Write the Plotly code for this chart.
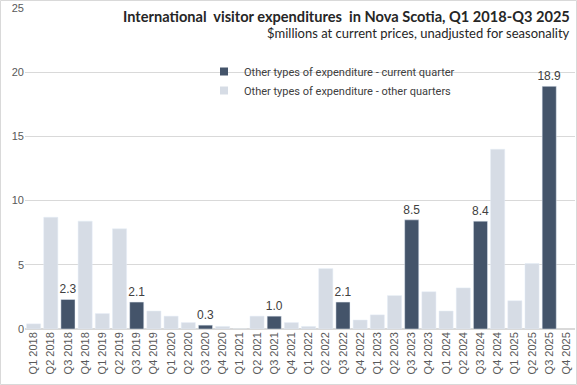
import plotly.graph_objects as go

quarters = ["Q1 2018","Q2 2018","Q3 2018","Q4 2018","Q1 2019","Q2 2019","Q3 2019","Q4 2019",
            "Q1 2020","Q2 2020","Q3 2020","Q4 2020","Q1 2021","Q2 2021","Q3 2021","Q4 2021",
            "Q1 2022","Q2 2022","Q3 2022","Q4 2022","Q1 2023","Q2 2023","Q3 2023","Q4 2023",
            "Q1 2024","Q2 2024","Q3 2024","Q4 2024","Q1 2025","Q2 2025","Q3 2025","Q4 2025"]
values = [0.4, 8.7, 2.3, 8.4, 1.2, 7.8, 2.1, 1.4,
          1.0, 0.5, 0.3, 0.2, 0.0, 1.0, 1.0, 0.5,
          0.2, 4.7, 2.1, 0.7, 1.1, 2.6, 8.5, 2.9,
          1.4, 3.2, 8.4, 14.0, 2.2, 5.1, 18.9, None]
current_quarter = "Q3"

cur_x = [q for q, v in zip(quarters, values) if q.startswith(current_quarter) and v is not None]
cur_y = [v for q, v in zip(quarters, values) if q.startswith(current_quarter) and v is not None]
oth_x = [q for q, v in zip(quarters, values) if not q.startswith(current_quarter) and v is not None]
oth_y = [v for q, v in zip(quarters, values) if not q.startswith(current_quarter) and v is not None]

DARK = "#44546A"
LIGHT = "#D6DCE5"
FONT = "Liberation Sans, Arial, sans-serif"
NARROW = "Lato, Roboto, sans-serif"

fig = go.Figure()
fig.add_trace(go.Bar(x=cur_x, y=cur_y, name="Other types of expenditure - current quarter",
                     marker_color=DARK, text=[f"{v:.1f}" for v in cur_y], textposition="outside",
                     textfont=dict(size=12, color="#404040", family=FONT), cliponaxis=False,
                     constraintext="none", showlegend=False))
fig.add_trace(go.Bar(x=oth_x, y=oth_y, name="Other types of expenditure - other quarters",
                     marker_color=LIGHT, showlegend=False))
# legend entries with small square swatches
fig.add_trace(go.Scatter(x=[None], y=[None], mode="markers", name="Other types of expenditure - current quarter",
                         marker=dict(symbol="square", size=8, color=DARK)))
fig.add_trace(go.Scatter(x=[None], y=[None], mode="markers", name="Other types of expenditure - other quarters",
                         marker=dict(symbol="square", size=8, color=LIGHT)))

W, H = 577, 385
ml, mr, mt, mb = 25, 2, 8, 56
pw = W - ml - mr
ph = H - mt - mb

fig.update_layout(
    width=W, height=H,
    margin=dict(l=ml, r=mr, t=mt, b=mb),
    paper_bgcolor="white", plot_bgcolor="white",
    barmode="overlay", bargap=0.18,
    font=dict(family=FONT, color="#595959", size=11),
    showlegend=True,
    legend=dict(x=(204 - ml) / pw, y=(H - mb - 57) / ph, xanchor="left", yanchor="top",
                bgcolor="rgba(0,0,0,0)", font=dict(size=11, color="#404040", family="Roboto, sans-serif"),
                itemwidth=30, tracegroupgap=0, traceorder="normal"),
    xaxis=dict(categoryorder="array", categoryarray=quarters, tickangle=-90,
               tickfont=dict(size=11, color="#595959"), showgrid=False, showline=False,
               ticks="", range=[-0.5, len(quarters) - 0.5], automargin=False),
    yaxis=dict(range=[0, 25], dtick=5, showgrid=True, gridcolor="#D9D9D9", gridwidth=1,
               zeroline=True, zerolinecolor="#D9D9D9", tickfont=dict(size=11, color="#595959"),
               ticks="", showline=False, automargin=False),
    annotations=[
        dict(text="<b>International  visitor expenditures  in Nova Scotia, Q1 2018-Q3 2025</b>",
             xref="paper", yref="paper", x=(W - 5 - ml) / pw, y=(H - mb - 16) / ph,
             xanchor="right", yanchor="middle", showarrow=False,
             font=dict(size=14.6, color="#262626", family=NARROW)),
        dict(text="$millions at current prices, unadjusted for seasonality",
             xref="paper", yref="paper", x=(W - 5 - ml) / pw, y=(H - mb - 33) / ph,
             xanchor="right", yanchor="middle", showarrow=False,
             font=dict(size=13, color="#262626", family=NARROW)),
    ],
    shapes=[dict(type="rect", xref="paper", yref="paper",
                 x0=(0.5 - ml) / pw, x1=(W - 0.5 - ml) / pw,
                 y0=(0.5 - mb) / ph, y1=(H - 0.5 - mb) / ph,
                 line=dict(color="#D9D9D9", width=1), fillcolor="rgba(0,0,0,0)", layer="below")],
)

fig.write_html("out.html", config={"displayModeBar": False},
               post_script="document.body.style.margin='0';document.body.style.overflow='hidden';")
